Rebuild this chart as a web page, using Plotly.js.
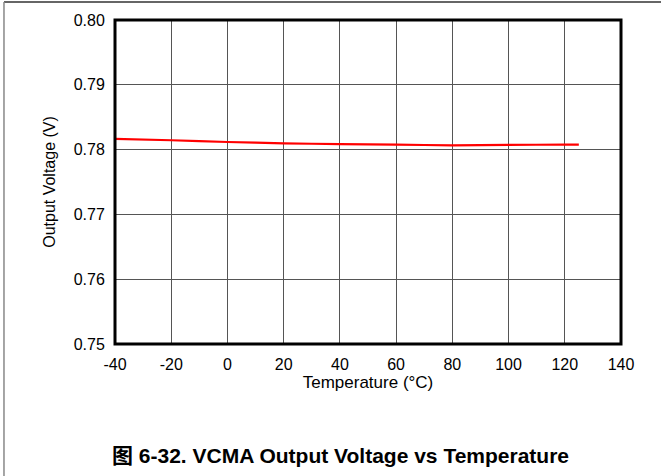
<!DOCTYPE html>
<html>
<head>
<meta charset="utf-8">
<script src="https://cdn.plot.ly/plotly-3.0.1.min.js"></script>
<style>html,body{margin:0;padding:0;background:#fff;}#chart{width:661px;height:476px;}</style>
</head>
<body>
<div id="chart"></div>
<script>
const temperature = [-40, -20, 0, 20, 40, 60, 80, 100, 120, 125];
const outputVoltage = [0.78164, 0.78144, 0.78117, 0.78097, 0.78085, 0.78078, 0.78065, 0.78072, 0.78077, 0.78077];
const xTicks = [-40, -20, 0, 20, 40, 60, 80, 100, 120, 140];
const yTicks = [0.75, 0.76, 0.77, 0.78, 0.79, 0.80];
const yTickLabels = ['0.75', '0.76', '0.77', '0.78', '0.79', '0.80'];

const font = 'Liberation Sans, Arial, sans-serif';
const trace = {
  x: temperature, y: outputVoltage, type: 'scatter', mode: 'lines',
  line: {color: '#ff0000', width: 2.2, shape: 'spline', smoothing: 0.6},
  hoverinfo: 'skip'
};
const layout = {
  width: 661, height: 476,
  margin: {l: 115, r: 40, t: 20, b: 132},
  paper_bgcolor: '#ffffff', plot_bgcolor: '#ffffff',
  showlegend: false,
  font: {family: font, size: 16, color: '#000'},
  xaxis: {
    range: [-40, 140], tickvals: xTicks, ticktext: xTicks.map(String),
    showgrid: true, gridcolor: '#555', gridwidth: 1, zeroline: false,
    ticks: 'outside', ticklen: 6, tickcolor: 'rgba(0,0,0,0)', showline: false,
    tickfont: {family: font, size: 16, color: '#000'},
    title: {text: 'Temperature (°C)', font: {family: font, size: 17, color: '#000'}, standoff: 0}
  },
  yaxis: {
    range: [0.75, 0.80], tickvals: yTicks, ticktext: yTickLabels,
    showgrid: true, gridcolor: '#555', gridwidth: 1, zeroline: false,
    ticks: 'outside', ticklen: 6, tickcolor: 'rgba(0,0,0,0)', showline: false,
    tickfont: {family: font, size: 16, color: '#000'},
    title: {text: 'Output Voltage (V)', font: {family: font, size: 16, color: '#000'}, standoff: 14}
  },
  shapes: [
    {type: 'rect', xref: 'paper', yref: 'paper', x0: 0, x1: 1, y0: 0, y1: 1, line: {color: '#000', width: 3}},
    {type: 'line', xref: 'paper', yref: 'paper', x0: -0.2194, x1: 1.08, y0: 1.0556, y1: 1.0556, line: {color: '#333', width: 1.5}},
    {type: 'line', xref: 'paper', yref: 'paper', x0: -0.2194, x1: -0.2194, y0: 1.0556, y1: -0.41, line: {color: '#888', width: 1.5}}
  ],
  annotations: [{
    xref: 'paper', yref: 'paper', x: 0.4447, y: -0.343, xanchor: 'center', yanchor: 'middle',
    showarrow: false,
    text: '<b>图 6-32. VCMA Output Voltage vs Temperature</b>',
    font: {family: 'Liberation Sans, Arial, Noto Sans CJK SC, sans-serif', size: 21, color: '#000'}
  }]
};
Plotly.newPlot('chart', [trace], layout, {displayModeBar: false, staticPlot: true});
</script>
</body>
</html>
